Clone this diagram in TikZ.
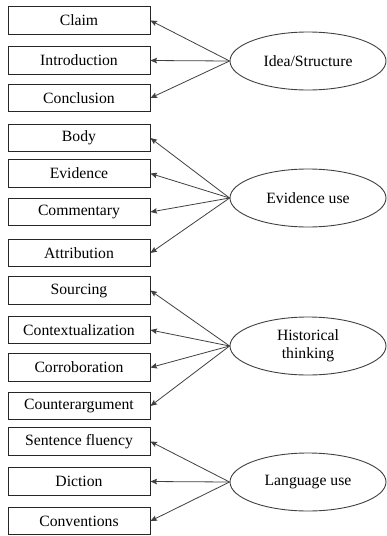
\documentclass[tikz,border=0pt]{standalone}
\usepackage{fontspec}
\setmainfont{Liberation Serif}
\usetikzlibrary{arrows.meta,shapes.geometric}
\begin{document}
\begin{tikzpicture}[x=1pt,y=-1pt,
  item/.style={draw=black!85,line width=0.9pt,minimum width=142pt,minimum height=27.5pt,inner sep=0pt,font=\fontsize{15.7}{17.5}\selectfont},
  factor/.style={draw=black!75,line width=0.9pt,ellipse,minimum width=156pt,minimum height=58pt,inner sep=0pt,align=center,font=\fontsize{15.7}{18}\selectfont},
  load/.style={draw=black!75,line width=0.8pt,-{Stealth[length=6.5pt,width=5.5pt,inset=1pt]}}]
\useasboundingbox (0,0) rectangle (387,536);
\node[item] (claim) at (79,20.5) {Claim};
\node[item] (intro) at (79,60.5) {Introduction};
\node[item] (concl) at (79,98) {Conclusion};
\node[item] (body) at (79,138) {Body};
\node[item] (evid) at (79,173.5) {Evidence};
\node[item] (comm) at (79,212) {Commentary};
\node[item] (attr) at (79,253) {Attribution};
\node[item] (sourc) at (79,290.5) {Sourcing};
\node[item] (context) at (79,330) {Contextualization};
\node[item] (corrob) at (79,367.5) {Corroboration};
\node[item] (counter) at (79,406) {Counterargument};
\node[item] (sent) at (79,441.5) {Sentence fluency};
\node[item] (dict) at (79,481.5) {Diction};
\node[item] (conv) at (79,521) {Conventions};
\node[factor] (idea) at (308,61) {Idea/Structure};
\node[factor] (evuse) at (308,198) {Evidence use};
\node[factor] (hist) at (308,346) {Historical\\thinking};
\node[factor] (lang) at (308,482) {Language use};
\foreach \t in {claim,intro,concl} \draw[load] (idea.west) -- (\t.east);
\foreach \t in {body,evid,comm,attr} \draw[load] (evuse.west) -- (\t.east);
\foreach \t in {sourc,context,corrob,counter} \draw[load] (hist.west) -- (\t.east);
\foreach \t in {sent,dict,conv} \draw[load] (lang.west) -- (\t.east);
\end{tikzpicture}
\end{document}
